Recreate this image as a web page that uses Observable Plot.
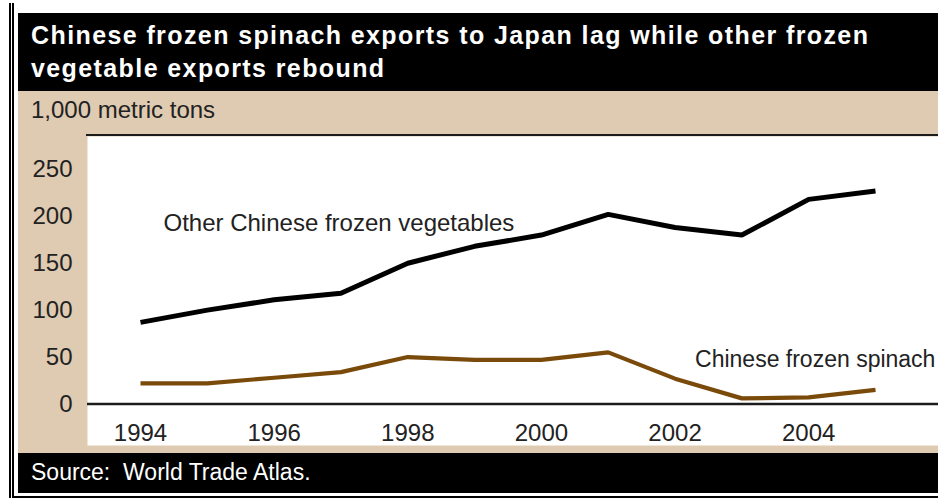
<!DOCTYPE html>
<html>
<head>
<meta charset="utf-8">
<script src="https://cdn.jsdelivr.net/npm/d3@7"></script>
<script src="https://cdn.jsdelivr.net/npm/@observablehq/plot@0.6"></script>
<style>
  html, body { margin: 0; padding: 0; background: #fff; }
  #page { position: relative; width: 952px; height: 499px; overflow: hidden; background: #fff;
          font-family: "Liberation Sans", Arial, Helvetica, sans-serif; }
  .abs { position: absolute; }
  .rule { position: absolute; background: #000; }
  #title { left: 18px; top: 13px; width: 920px; height: 78px; background: #000; color: #fff;
           font-weight: bold; font-size: 25px; letter-spacing: 1.4px; line-height: 33px; box-sizing: border-box;
           padding: 6px 0 0 13px; white-space: nowrap; }
  #units { left: 18px; top: 91px; width: 920px; height: 45px; background: #dfcab2; color: #222;
           font-size: 24px; box-sizing: border-box; padding: 5px 0 0 13px; white-space: nowrap; }
  #chart { left: 18px; top: 136px; }
  #plotTop { left: 86px; top: 134px; width: 852px; height: 2px; background: #1c1c1c; }
  #source { left: 18px; top: 453px; width: 920px; height: 40px; background: #000; color: #fff;
            font-size: 23px; box-sizing: border-box; padding: 6px 0 0 13px; white-space: pre; }
</style>
</head>
<body>
<div id="page">
  <div class="rule" style="left:9px;top:3px;width:2px;height:495px"></div>
  <div class="rule" style="left:12px;top:3px;width:1.5px;height:495px"></div>
  <div class="rule" style="left:12px;top:496px;width:926px;height:1.5px"></div>
  <div id="title" class="abs"></div>
  <div id="units" class="abs"></div>
  <div id="chart" class="abs"></div>
  <div id="plotTop" class="abs"></div>
  <div id="source" class="abs"></div>
</div>
<script>
// Chinese frozen vegetable exports to Japan, 1,000 metric tons
const years = [1994, 1995, 1996, 1997, 1998, 1999, 2000, 2001, 2002, 2003, 2004, 2005];
const otherVegetables = [87, 100, 111, 118, 150, 168, 180, 202, 188, 180, 218, 227];
const frozenSpinach = [22, 22, 28, 34, 50, 47, 47, 55, 27, 6, 7, 15];

const yTicks = [0, 50, 100, 150, 200, 250];
const xTicks = [1994, 1996, 1998, 2000, 2002, 2004];

const titleLines = ["Chinese frozen spinach exports to Japan lag while other frozen", "vegetable exports rebound"];
const unitsText = "1,000 metric tons";
const sourceText = "Source:  World Trade Atlas.";
const otherLabel = "Other Chinese frozen vegetables";
const spinachLabel = "Chinese frozen spinach";

const TAN = "#dfcab2";
const BROWN = "#7a4a0a";

document.getElementById("title").innerHTML = titleLines.join("<br>");
document.getElementById("units").textContent = unitsText;
document.getElementById("source").textContent = sourceText;

const rows = [
  ...years.map((year, i) => ({year, value: otherVegetables[i], series: "other"})),
  ...years.map((year, i) => ({year, value: frozenSpinach[i], series: "spinach"}))
];

const chart = Plot.plot({
  width: 920,
  height: 317,
  marginTop: 0,
  marginBottom: 8,
  marginLeft: 69,
  marginRight: 0,
  style: {background: TAN, color: "#222", fontSize: "24px",
          fontFamily: "'Liberation Sans', Arial, Helvetica, sans-serif", overflow: "hidden"},
  x: {domain: [1994, 2005], insetLeft: 53, insetRight: 63},
  y: {domain: [0, 285], insetBottom: 41.5},
  marks: [
    Plot.frame({fill: "white", stroke: null}),
    Plot.ruleY([0], {stroke: "#1c1c1c", strokeWidth: 2.5}),
    Plot.axisY({ticks: yTicks, tickSize: 0, tickPadding: 15, label: null, fill: "#222"}),
    Plot.axisX({ticks: xTicks, tickSize: 0, tickPadding: 0, dy: -22, label: null,
                tickFormat: d => String(d), fill: "#222"}),
    Plot.line(rows.filter(d => d.series === "other"), {x: "year", y: "value", stroke: "#000",
              strokeWidth: 5, strokeLinecap: "butt", strokeLinejoin: "miter"}),
    Plot.line(rows.filter(d => d.series === "spinach"), {x: "year", y: "value", stroke: BROWN,
              strokeWidth: 4.2, strokeLinecap: "butt", strokeLinejoin: "miter"}),
    Plot.text([otherLabel], {x: 1994, y: 192, dx: 23, text: d => d, textAnchor: "start", fill: "#222"}),
    Plot.text([spinachLabel], {x: 2002, y: 47.5, dx: 20, text: d => d, textAnchor: "start",
              fill: "#222", fontSize: 23})
  ]
});

document.getElementById("chart").appendChild(chart);
</script>
</body>
</html>
